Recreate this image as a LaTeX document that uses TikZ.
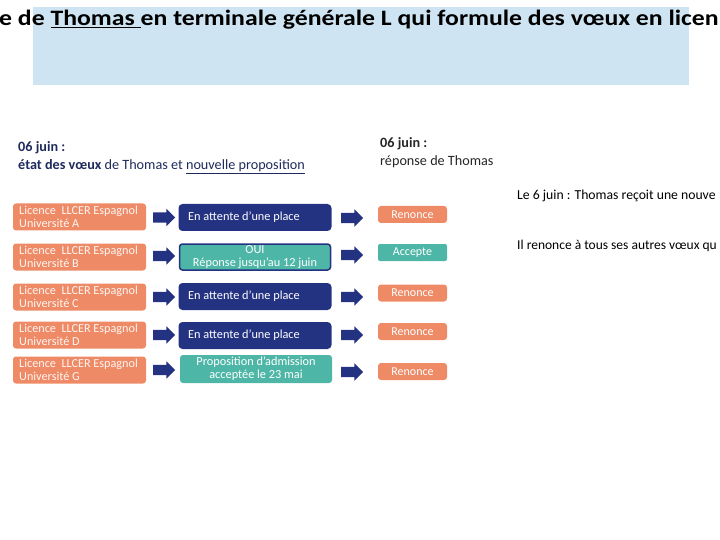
\documentclass[tikz,border=0pt]{standalone}
\usepackage{fontspec}
\setmainfont{Carlito}
\usetikzlibrary{shapes.arrows}
\definecolor{lblue}{HTML}{CFE4F2}
\definecolor{salmon}{HTML}{EE8A66}
\definecolor{navy}{HTML}{243282}
\definecolor{teal2}{HTML}{4DB6A6}
\definecolor{ink}{HTML}{1F2A5C}
\tikzset{
  obox/.style={fill=salmon, rounded corners=3pt, minimum width=133pt, minimum height=27pt, inner sep=0pt},
  otext/.style={text=white!92!salmon, font=\fontsize{12.2}{13}\selectfont, align=left, anchor=west, inner sep=0pt},
  nbox/.style={fill=navy, rounded corners=4pt, minimum width=153pt, minimum height=27pt, inner sep=0pt},
  tbox/.style={fill=teal2, rounded corners=3pt, minimum width=152pt, minimum height=28pt, inner sep=0pt},
  wtext/.style={text=white, font=\fontsize{12.3}{13}\selectfont, align=center, inner sep=0pt},
  rbox/.style={fill=salmon, rounded corners=3pt, minimum width=69pt, minimum height=17pt, inner sep=0pt, text=white, font=\fontsize{12}{12}\selectfont},
  abox/.style={fill=teal2, rounded corners=2pt, minimum width=69pt, minimum height=17pt, inner sep=0pt, text=white, font=\fontsize{12}{12}\selectfont},
  barrow/.style={single arrow, fill=navy, minimum height=22pt, minimum width=17pt, inner xsep=0pt, inner ysep=5pt, single arrow head extend=3.5pt},
  hl/.style={anchor=base west, inner sep=0pt},
}
\begin{document}
\begin{tikzpicture}[x=1pt,y=-1pt]
\useasboundingbox (0,0) rectangle (720,540);
\clip (0,0) rectangle (720,540);
% title
\node[fill=lblue, minimum width=656pt, minimum height=78pt, inner sep=0pt, anchor=north west] (band) at (33,7) {};
\node[hl, font=\fontsize{22}{24}\selectfont\bfseries] (title) at (-1,26) {\scalebox{1.17}[1]{e de \underline{Thomas }en terminale générale L qui formule des vœux en licen}};
% headers
\node[hl, text=ink, font=\fontsize{14.2}{18}\selectfont] (h1a) at (18,151.5) {\textbf{06 juin :}};
\node[hl, text=ink, font=\fontsize{14.2}{18}\selectfont] (h1b) at (18,169.5) {\textbf{état des vœux} de Thomas et \underline{nouvelle proposition}};
\node[hl, text=black!85, font=\fontsize{14.2}{18}\selectfont] (h2a) at (380,147.5) {\textbf{06 juin :}};
\node[hl, text=black!85, font=\fontsize{14.2}{18}\selectfont] (h2b) at (380,165.5) {réponse de Thomas};
\node[hl, font=\fontsize{13.7}{14}\selectfont] (n1) at (517,199.5) {Le 6 juin : Thomas reçoit une nouve};
\node[hl, font=\fontsize{13.5}{14}\selectfont] (n2) at (517,249.5) {Il renonce à tous ses autres vœux qu};
% left boxes
\foreach \id/\y/\u in {a/217/A, b/257/B, c/297/C, d/335/D, g/370/G}{
  \node[obox] (o\id) at (79.5,\y) {};
  \node[otext] (ot\id) at (19,\y) {Licence\ \ LLCER Espagnol\\Université \u};
}
% middle boxes
\node[nbox] (ma) at (255,217.5) {};
\node[wtext, anchor=west] (mta) at (188,217.5) {En attente d’une place};
\node[tbox, draw=navy, line width=1.5pt, minimum width=151pt, minimum height=26pt] (mb) at (255,257) {};
\node[wtext] (mtb) at (255,257) {OUI\\Réponse jusqu’au 12 juin};
\node[nbox] (mc) at (255,296.5) {};
\node[wtext, anchor=west] (mtc) at (188,296.5) {En attente d’une place};
\node[nbox] (md) at (255,335.5) {};
\node[wtext, anchor=west] (mtd) at (188,335.5) {En attente d’une place};
\node[tbox] (mg) at (256,369) {};
\node[wtext] (mtg) at (256,369) {Proposition d’admission\\acceptée le 23 mai};
% right boxes
\node[rbox] (ra) at (412.5,214.5) {Renonce};
\node[abox] (rb) at (412.5,252.5) {Accepte};
\node[rbox] (rc) at (412.5,293) {Renonce};
\node[rbox] (rd) at (412.5,331.5) {Renonce};
\node[rbox] (rg) at (412.5,371.5) {Renonce};
% arrows
\foreach \id/\y in {a/217.5, b/256, c/297, d/335, g/370}{
  \node[barrow] (p\id) at (161.5,\y) {};
}
\foreach \id/\y in {a/218, b/255, c/297, d/335, g/372}{
  \node[barrow] (q\id) at (349.5,\y) {};
}
\end{tikzpicture}
\end{document}
